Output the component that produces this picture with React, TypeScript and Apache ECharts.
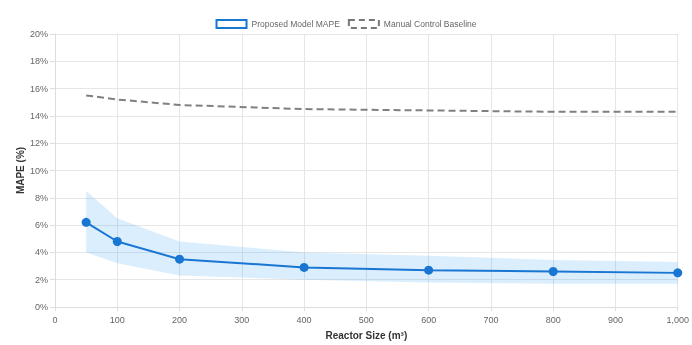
import React, { useEffect, useRef } from "react";
import * as echarts from "echarts";

const reactorSizes = [50, 100, 200, 400, 600, 800, 1000];
const modelMape = [6.2, 4.8, 3.5, 2.9, 2.7, 2.6, 2.5];
const bandLower = [4.0, 3.2, 2.3, 2.0, 1.8, 1.7, 1.7];
const bandUpper = [8.5, 6.5, 4.8, 4.0, 3.75, 3.45, 3.3];
const baselineMape = [15.5, 15.2, 14.8, 14.5, 14.4, 14.3, 14.3];

export default function App() {
  const ref = useRef<HTMLDivElement>(null);
  useEffect(() => {
    if (!ref.current) return;
    const chart = echarts.init(ref.current, undefined, { renderer: "svg" });
    const font = "Liberation Sans, Arial, sans-serif";
    const bandData = reactorSizes.map((x, i) => [x, bandLower[i], bandUpper[i]]);
    chart.setOption({
      animation: false,
      textStyle: { fontFamily: font },
      grid: { left: 55, right: 11, top: 34, bottom: 34, containLabel: false },
      legend: {
        top: 14,
        left: "center",
        itemWidth: 30,
        itemHeight: 8,
        itemGap: 8,
        textStyle: { color: "#666", fontSize: 8.5, fontFamily: font },
        data: [
          {
            name: "Proposed Model MAPE",
            icon: "rect",
            itemStyle: { color: "#fff", borderColor: "#1976d2", borderWidth: 2 },
          },
          {
            name: "Manual Control Baseline",
            icon: "rect",
            itemStyle: { color: "#fff", borderColor: "#777", borderWidth: 2, borderType: [6, 4] },
          },
        ],
      },
      xAxis: {
        type: "value",
        min: 0,
        max: 1000,
        interval: 100,
        name: "Reactor Size (m³)",
        nameLocation: "middle",
        nameGap: 23,
        nameMoveOverlap: false,
        nameTextStyle: { fontWeight: "bold", color: "#333", fontSize: 10, fontFamily: font },
        axisLine: { lineStyle: { color: "#ddd" } },
        axisTick: { show: true, length: 4, lineStyle: { color: "#ddd" } },
        axisLabel: {
          color: "#666",
          fontSize: 9,
          margin: 8,
          formatter: (v: number) => v.toLocaleString("en-US"),
        },
        splitLine: { show: true, lineStyle: { color: "#e6e6e6" } },
      },
      yAxis: {
        type: "value",
        min: 0,
        max: 20,
        interval: 2,
        name: "MAPE (%)",
        nameLocation: "middle",
        nameGap: 30,
        nameMoveOverlap: false,
        nameRotate: 90,
        nameTextStyle: { fontWeight: "bold", color: "#333", fontSize: 10, fontFamily: font },
        axisLine: { show: true, lineStyle: { color: "#ddd" } },
        axisTick: { show: true, length: 5, lineStyle: { color: "#ddd" } },
        axisLabel: { color: "#666", fontSize: 9, margin: 7, formatter: (v: number) => v + "%" },
        splitLine: { show: true, lineStyle: { color: "#e6e6e6" } },
      },
      series: [
        {
          name: "band",
          type: "custom",
          silent: true,
          z: 1,
          data: bandData,
          renderItem: (params: any, api: any) => {
            if (params.dataIndex !== 0) return null;
            const upper = bandData.map((d) => api.coord([d[0], d[2]]));
            const lower = bandData.map((d) => api.coord([d[0], d[1]])).reverse();
            return {
              type: "polygon",
              shape: { points: upper.concat(lower) },
              style: { fill: "rgba(33,150,243,0.16)" },
            };
          },
          encode: { x: 0, y: [1, 2] },
        },
        {
          name: "Proposed Model MAPE",
          type: "line",
          data: reactorSizes.map((x, i) => [x, modelMape[i]]),
          symbol: "circle",
          symbolSize: 9,
          lineStyle: { color: "#1976d2", width: 2 },
          itemStyle: { color: "#1976d2" },
          z: 3,
        },
        {
          name: "Manual Control Baseline",
          type: "line",
          data: reactorSizes.map((x, i) => [x, baselineMape[i]]),
          symbol: "none",
          lineStyle: { color: "#808080", width: 2, type: [7, 4] },
          itemStyle: { color: "#808080" },
          z: 2,
        },
      ],
    });
    return () => chart.dispose();
  }, []);
  return <div ref={ref} style={{ width: 692, height: 345, position: "fixed", left: 0, top: 0 }} />;
}
